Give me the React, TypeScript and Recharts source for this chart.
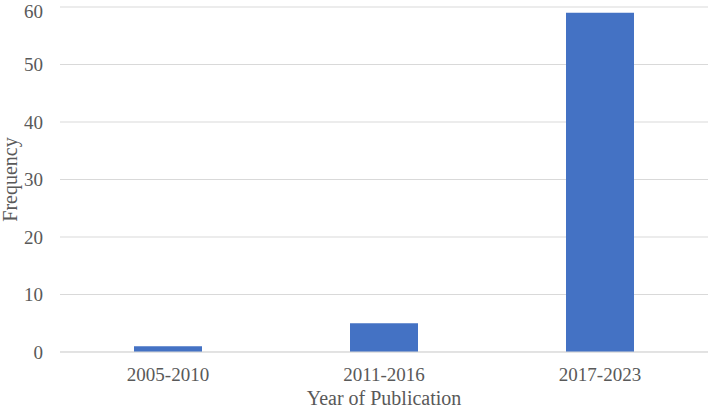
import { Bar, BarChart, CartesianGrid, XAxis, YAxis } from "recharts";

const periods = ["2005-2010", "2011-2016", "2017-2023"];
const frequencies = [1, 5, 59];
const yTicks = [0, 10, 20, 30, 40, 50, 60];

const FONT = "'Liberation Serif', 'Times New Roman', serif";
const TEXT = "#595959";
const GRID = "#d9d9d9";

const data = periods.map((period, i) => ({ period, frequency: frequencies[i] }));

function FrequencyLabel({ viewBox }: any) {
  const cy = viewBox.y + viewBox.height / 2;
  return (
    <text
      transform={`translate(17, ${cy}) rotate(-90)`}
      textAnchor="middle"
      fill={TEXT}
      fontFamily={FONT}
      fontSize={20}
    >
      Frequency
    </text>
  );
}

export default function App() {
  return (
    <div style={{ position: "absolute", left: 0, top: 0, width: 708, height: 410, background: "#fff" }}>
      <BarChart
        width={708}
        height={410}
        data={data}
        margin={{ top: 7, right: 0, bottom: 0, left: 0 }}
        barSize={68}
      >
        <CartesianGrid stroke={GRID} vertical={false} />
        <XAxis
          dataKey="period"
          height={58}
          tickLine={false}
          tickSize={0}
          tickMargin={16}
          axisLine={{ stroke: GRID }}
          tick={{ fill: TEXT, fontSize: 19, fontFamily: FONT }}
          label={{
            value: "Year of Publication",
            position: "insideBottom",
            offset: 5,
            fill: TEXT,
            fontSize: 20,
            fontFamily: FONT,
          }}
        />
        <YAxis
          width={60}
          domain={[0, 60]}
          ticks={yTicks}
          tickLine={false}
          tickSize={0}
          tickMargin={17}
          axisLine={false}
          tick={{ fill: TEXT, fontSize: 19, fontFamily: FONT }}
          label={<FrequencyLabel />}
        />
        <Bar dataKey="frequency" fill="#4472C4" isAnimationActive={false} />
      </BarChart>
    </div>
  );
}
